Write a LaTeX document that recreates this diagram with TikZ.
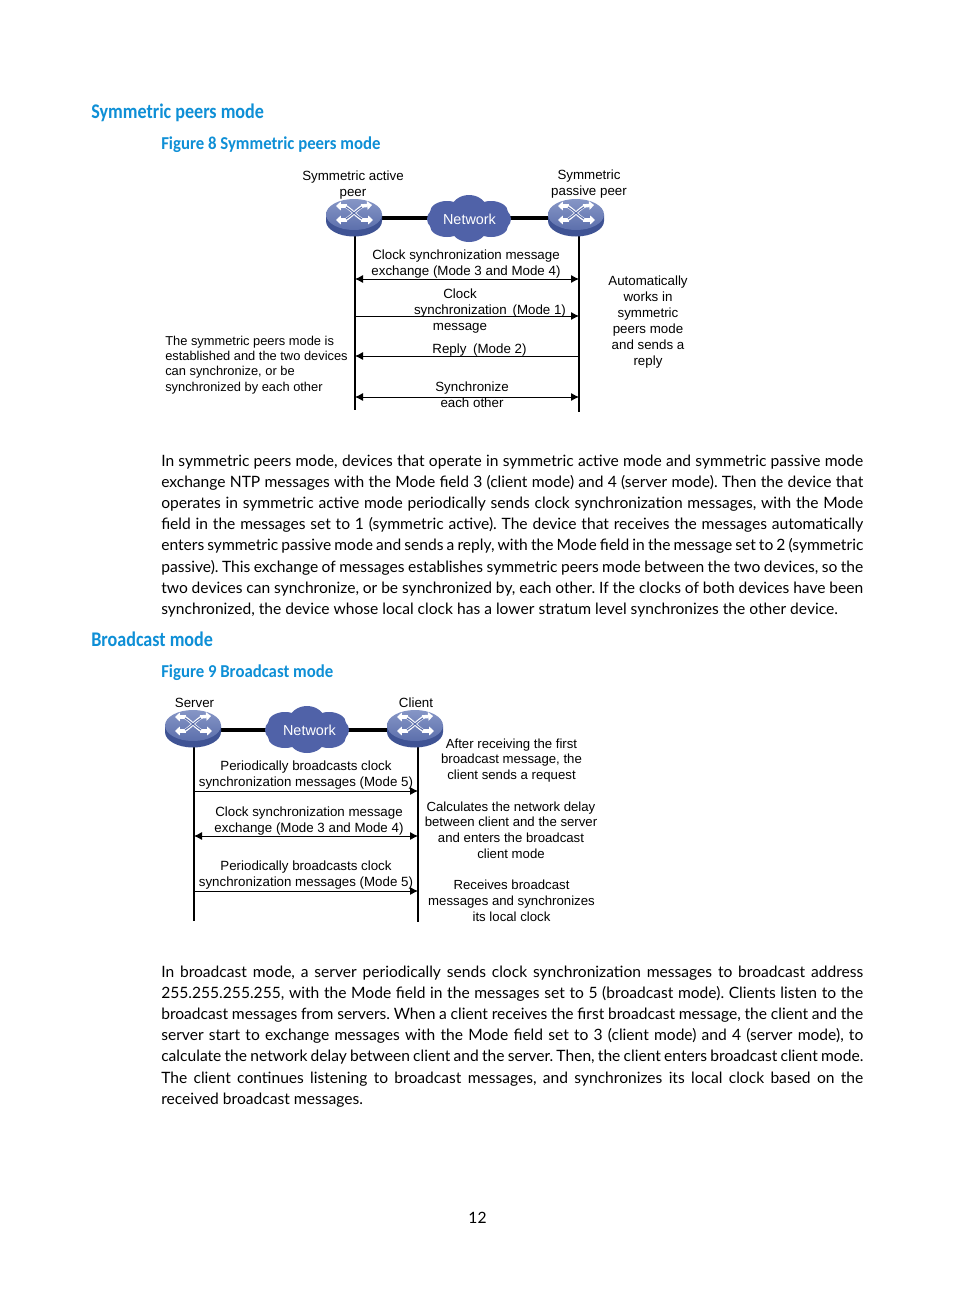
\documentclass[tikz,border=0pt]{standalone}
\usepackage{fontspec}
\setmainfont{Liberation Sans}
\newfontfamily\bodyfont{Lato}
\newfontfamily\headfont[FakeStretch=0.87]{Carlito}
\newfontfamily\subheadfont[FakeStretch=0.925]{Carlito}
\usetikzlibrary{arrows.meta}
\definecolor{headblue}{HTML}{0E8FD6}
\definecolor{cloudblue}{HTML}{5062A8}
\definecolor{devtop}{HTML}{8696C6}
\definecolor{devtopb}{HTML}{5C6FAC}
\definecolor{devside}{HTML}{3F5394}
\tikzset{
 x=0.75pt,y=-0.75pt,
 lab/.style={inner sep=0pt,align=center,font=\fontsize{10pt}{12pt}\selectfont},
 labl/.style={inner sep=0pt,align=left,font=\fontsize{9.65pt}{11.5pt}\selectfont},
 labc/.style={inner sep=0pt,align=center,font=\fontsize{9.9pt}{11.8pt}\selectfont},
 h1/.style={inner sep=0pt,anchor=base west,text=headblue,font=\headfont\bfseries\fontsize{15.6pt}{18pt}\selectfont},
 h2/.style={inner sep=0pt,anchor=base west,text=headblue,font=\subheadfont\bfseries\fontsize{13.6pt}{16pt}\selectfont},
 bodyl/.style={inner sep=0pt,anchor=base west,font=\bodyfont\frenchspacing\fontsize{11.7pt}{15.75pt}\selectfont},
 thick line/.style={line width=2.6pt},
 life/.style={line width=2.2pt},
 msg/.style={line width=0.6pt},
 tipr/.style={msg,-{Latex[length=6pt,width=6pt]}},
 tipl/.style={msg,{Latex[length=6pt,width=6pt]}-},
 tipb/.style={msg,{Latex[length=6pt,width=6pt]}-{Latex[length=6pt,width=6pt]}},
 devnode/.style={inner sep=0pt,minimum width=41.5pt,minimum height=29pt,shape=rectangle},
 cloudnode/.style={inner sep=0pt,text=white,font=\fontsize{10.8pt}{13pt}\selectfont},
 arr/.style={white,line width=2.6pt,-{Triangle[length=3.6pt,width=6.5pt]}},
 pics/device/.style={code={
  \fill[devside] (-28,1.5) -- (-28,8) arc[start angle=180,end angle=0,x radius=28,y radius=15.5] -- (28,1.5) -- cycle;
  \shade[top color=devtop,bottom color=devtopb] (0,1.5) ellipse[x radius=28,y radius=15.5];
  \draw[arr] (-7,-7) -- (-18,-7);
  \draw[arr] (7,-7) -- (18,-8);
  \draw[arr] (-7,7) -- (-18,7);
  \draw[arr] (7,7) -- (19,7);
  \draw[white,line width=2.2pt] (-9,-7) .. controls (-3,-4) and (3,4) .. (9,7);
  \draw[white,line width=2.2pt] (9,-7) .. controls (3,-4) and (-3,4) .. (-9,7);
  \draw[devtopb,line width=0.8pt] (-8,-6) .. controls (-3,-3) and (3,3) .. (8,6);
  \draw[devtopb,line width=0.8pt] (8,-6) .. controls (3,-3) and (-3,3) .. (-8,6);
 }},
 pics/cloud/.style={code={
  \fill[cloudblue] (0,-9) ellipse[x radius=18,y radius=15];
  \fill[cloudblue] (0,9) ellipse[x radius=18,y radius=14];
  \fill[cloudblue] (-22,-7) ellipse[x radius=17,y radius=11];
  \fill[cloudblue] (22,-7) ellipse[x radius=17,y radius=11];
  \fill[cloudblue] (-22,7) ellipse[x radius=17,y radius=11];
  \fill[cloudblue] (22,7) ellipse[x radius=17,y radius=11];
  \fill[cloudblue] (-30,0) ellipse[x radius=12,y radius=11];
  \fill[cloudblue] (30,0) ellipse[x radius=12,y radius=11];
 }},
}
\begin{document}
\begin{tikzpicture}
\useasboundingbox (0,0) rectangle (954,1296);
\fill[white] (0,0) rectangle (954,1296);

% headings
\node[h1] (h1a) at (91,118) {Symmetric peers mode};
\node[h2] (h2a) at (161,149) {Figure 8 Symmetric peers mode};
\node[h1] (h1b) at (91,646) {Broadcast mode};
\node[h2] (h2b) at (161,677) {Figure 9 Broadcast mode};

% figure 8: anchors
\node[devnode] (A) at (354,213) {};
\node[devnode] (B) at (576,213) {};
\node[inner sep=0pt,minimum width=60pt,minimum height=34pt] (N) at (469,219) {};
\coordinate (a0) at (355,230); \coordinate (a1) at (355,410);
\coordinate (b0) at (579,230); \coordinate (b1) at (579,412);
\coordinate (a2) at (355,279); \coordinate (b2) at (579,279);
\coordinate (a3) at (355,316); \coordinate (b3) at (579,316);
\coordinate (a4) at (355,356); \coordinate (b4) at (579,356);
\coordinate (a5) at (355,397); \coordinate (b5) at (579,397);
\draw[thick line] (A.center |- 0,218) -- (N.center |- 0,218);
\draw[thick line] (N.center |- 0,218) -- (B.center |- 0,218);
\draw[life] (a0) -- (a1);
\draw[life] (b0) -- (b1);
\draw[tipb] (a2) -- (b2);
\draw[tipr] (a3) -- (b3);
\draw[tipl] (a4) -- (b4);
\draw[tipb] (a5) -- (b5);
\pic at (354,213) {device};
\pic at (576,213) {device};
\pic at (469,219) {cloud};
\node[cloudnode] (Nt) at (469.5,219.5) {Network};

\node[lab] (l1) at (353,185) {Symmetric active\\peer};
\node[lab] (l2) at (589,184) {Symmetric\\passive peer};
\node[lab] (l3) at (466,264.5) {Clock synchronization message\\exchange (Mode 3 and Mode 4)};
\node[lab,anchor=base] (l4) at (460,298) {Clock};
\node[lab,anchor=base] (l5) at (490,314) {synchronization\, (Mode 1)};
\node[lab,anchor=base] (l6) at (460,330) {message};
\node[lab,anchor=base] (l7) at (479.5,353) {Reply\,\,\,(Mode 2)};
\node[lab] (l8) at (472,394.5) {Synchronize\\each other};
\node[lab] (l9) at (648,322) {Automatically\\works in\\symmetric\\peers mode\\and sends a\\reply};
\node[labl,anchor=west] (l10) at (165,365) {The symmetric peers mode is\\established and the two devices\\can synchronize, or be\\synchronized by each other};

% figure 9
\node[devnode] (S) at (193,725) {};
\node[devnode] (C) at (415,725) {};
\node[inner sep=0pt,minimum width=60pt,minimum height=34pt] (M) at (307,730) {};
\coordinate (s0) at (194,742); \coordinate (s1) at (194,921);
\coordinate (c0) at (418,742); \coordinate (c1) at (418,922);
\coordinate (s2) at (194,791); \coordinate (c2) at (418,791);
\coordinate (s3) at (194,836); \coordinate (c3) at (418,836);
\coordinate (s4) at (194,891); \coordinate (c4) at (418,891);
\draw[thick line] (S.center |- 0,730) -- (M.center |- 0,730);
\draw[thick line] (M.center |- 0,730) -- (C.center |- 0,730);
\draw[life] (s0) -- (s1);
\draw[life] (c0) -- (c1);
\draw[tipr] (s2) -- (c2);
\draw[tipb] (s3) -- (c3);
\draw[tipr] (s4) -- (c4);
\pic at (193,724) {device};
\pic at (415,724) {device};
\pic at (307,730) {cloud};
\node[cloudnode] (Mt) at (309.5,730.5) {Network};

\node[lab] (m1) at (194.5,702.5) {Server};
\node[lab] (m2) at (416,702.5) {Client};
\node[lab] (m3) at (306,775) {Periodically broadcasts clock\\synchronization messages (Mode 5)};
\node[lab] (m4) at (309,821) {Clock synchronization message\\exchange (Mode 3 and Mode 4)};
\node[lab] (m5) at (306,875) {Periodically broadcasts clock\\synchronization messages (Mode 5)};
\node[labc] (m6) at (511.5,760.5) {After receiving the first\\broadcast message, the\\client sends a request};
\node[labc] (m7) at (511,830) {Calculates the network delay\\between client and the server\\and enters the broadcast\\client mode};
\node[labc] (m8) at (511.5,901) {Receives broadcast\\messages and synchronizes\\its local clock};

% body text
\newcommand{\jl}[3]{\node[bodyl] (#1) at (161,#2) {\hbox to 526.5pt{#3}};}
\jl{p1}{466}{In symmetric peers mode, devices that operate in symmetric active mode and symmetric passive mode}
\jl{p2}{487}{exchange NTP messages with the Mode field 3 (client mode) and 4 (server mode). Then the device that}
\jl{p3}{508}{operates in symmetric active mode periodically sends clock synchronization messages, with the Mode}
\jl{p4}{529}{field in the messages set to 1 (symmetric active). The device that receives the messages automatically}
\jl{p5}{550}{enters symmetric passive mode and sends a reply, with the Mode field in the message set to 2 (symmetric}
\jl{p6}{572}{passive). This exchange of messages establishes symmetric peers mode between the two devices, so the}
\jl{p7}{593}{two devices can synchronize, or be synchronized by, each other. If the clocks of both devices have been}
\node[bodyl] (p8) at (161,614) {synchronized, the device whose local clock has a lower stratum level synchronizes the other device.};
\jl{q1}{977}{In broadcast mode, a server periodically sends clock synchronization messages to broadcast address}
\jl{q2}{998}{255.255.255.255, with the Mode field in the messages set to 5 (broadcast mode). Clients listen to the}
\jl{q3}{1019}{broadcast messages from servers. When a client receives the first broadcast message, the client and the}
\jl{q4}{1040}{server start to exchange messages with the Mode field set to 3 (client mode) and 4 (server mode), to}
\jl{q5}{1061}{calculate the network delay between client and the server. Then, the client enters broadcast client mode.}
\jl{q6}{1083}{The client continues listening to broadcast messages, and synchronizes its local clock based on the}
\node[bodyl] (q7) at (161,1104) {received broadcast messages.};
\node[bodyl,anchor=base] (pg) at (477.5,1223) {12};
\end{tikzpicture}
\end{document}
